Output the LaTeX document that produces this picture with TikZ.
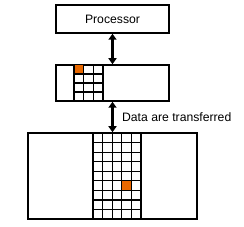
\documentclass[tikz,border=0pt]{standalone}
\usepackage{fontspec}
\setmainfont{Liberation Sans}
\usetikzlibrary{positioning,arrows.meta}
\definecolor{cellorange}{RGB}{232,104,0}

\begin{document}
\begin{tikzpicture}[x=1pt, y=-1pt, every node/.style={font=\fontsize{12.2}{14}\selectfont},
	blk/.style={draw, line width=1.5pt, inner sep=0pt},
	cell/.style={line width=1.2pt},
	link/.style={line width=2.6pt, {Triangle[length=6pt,width=8pt]}-{Triangle[length=6pt,width=8pt]}}]
	\useasboundingbox (0,0) rectangle (244,227);
	\node[blk, minimum width=113pt, minimum height=28pt] (proc) at (112.5,19) {Processor};
	\node[blk, minimum width=113pt, minimum height=36pt] (cache) at (112.5,83) {};
	\node[blk, minimum width=169pt, minimum height=86pt] (mem) at (112.5,176) {};
	% cache lines
	\fill[cellorange] (74,65) rectangle +(9.67,9);
	\foreach \i in {0,...,3} \draw[cell] (74+\i*9.67,65) -- (74+\i*9.67,101);
	\foreach \j in {1,2,3} \draw[cell] (74,65+\j*9) -- (103,65+\j*9);
	% memory lines
	\fill[cellorange] (93+3*9.6,133+5*9.56) rectangle +(9.6,9.56);
	\foreach \i in {0,...,5} \draw[cell] (93+\i*9.6,133) -- (93+\i*9.6,219);
	\foreach \j in {1,...,8} \draw[cell] (93,133+\j*9.56) -- (141,133+\j*9.56);
	\draw[link] (proc) -- (cache);
	\draw[link] (cache) -- (mem) node[midway, right=5pt] {Data are transferred};
\end{tikzpicture}
\end{document}
